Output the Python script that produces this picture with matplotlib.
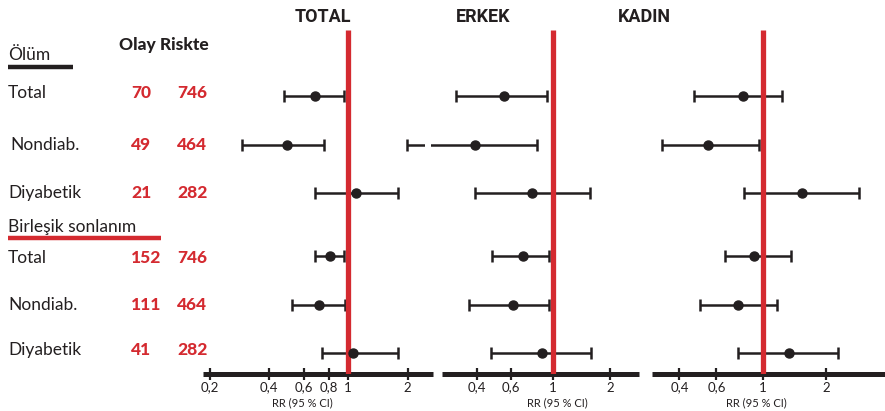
import matplotlib
matplotlib.use("Agg")
import matplotlib.pyplot as plt
from matplotlib.ticker import FixedLocator, FixedFormatter, NullLocator

# ---------------- data ----------------
panels = ["TOTAL", "ERKEK", "KADIN"]
group_titles = ["Ölüm", "Birleşik sonlanım"]
row_labels = ["Total", "Nondiab.", "Diyabetik", "Total", "Nondiab.", "Diyabetik"]
col_headers = "Olay Riskte"
olay = [70, 49, 21, 152, 111, 41]
riskte = [746, 464, 282, 746, 464, 282]

total_rr = [0.68, 0.49, 1.10, 0.81, 0.71, 1.06]
total_lo = [0.475, 0.29, 0.68, 0.68, 0.52, 0.74]
total_hi = [0.96, 0.76, 1.78, 0.95, 0.97, 1.78]

erkek_rr = [0.55, 0.39, 0.78, 0.70, 0.62, 0.875]
erkek_lo = [0.31, 0.17, 0.39, 0.48, 0.36, 0.47]
erkek_hi = [0.935, 0.83, 1.57, 0.956, 0.96, 1.59]

kadin_rr = [0.80, 0.55, 1.54, 0.91, 0.76, 1.33]
kadin_lo = [0.47, 0.33, 0.81, 0.66, 0.50, 0.76]
kadin_hi = [1.23, 0.96, 2.86, 1.36, 1.17, 2.27]

total_ticks = [0.2, 0.4, 0.6, 0.8, 1, 2]
total_ticklabels = ["0,2", "0,4", "0,6", "0,8", "1", "2"]
other_ticks = [0.4, 0.6, 1, 2]
other_ticklabels = ["0,4", "0,6", "1", "2"]
xlabel = "RR (95 % CI)"

# ---------------- style / layout ----------------
W, H = 885, 411
BLACK = "#231f20"
RED = "#d42a30"
FONT = ["Lato", "DejaVu Sans"]
TITLE_FONT = ["Roboto", "DejaVu Sans"]

fig = plt.figure(figsize=(W / 100, H / 100), dpi=100)
fig.patch.set_facecolor("white")


def fx(px):
    return px / W


def fy(py):
    return 1 - py / H


mark_rows = [96, 145, 193, 256, 305, 353]
text_rows = [93, 145, 193, 258, 305, 350]

panel_specs = [
    # x0, x1, xlim, title center x, xlabel center x
    (203, 433, (0.185, 2.69), 323, 302),
    (442, 639, (0.261, 2.84), 483, 557),
    (652, 885, (0.296, 3.81), 644, 756),
]
panel_data = [
    (total_rr, total_lo, total_hi, total_ticks, total_ticklabels),
    (erkek_rr, erkek_lo, erkek_hi, other_ticks, other_ticklabels),
    (kadin_rr, kadin_lo, kadin_hi, other_ticks, other_ticklabels),
]

Y_TOP, Y_BOT = 30, 374

for i, (name, spec, dat) in enumerate(zip(panels, panel_specs, panel_data)):
    x0, x1, xlim, tcx, lcx = spec
    rr, lo, hi, ticks, tlabels = dat
    ax = fig.add_axes([fx(x0), fy(Y_BOT), (x1 - x0) / W, (Y_BOT - Y_TOP) / H])
    ax.set_xscale("log")
    ax.set_xlim(*xlim)
    ax.set_ylim(Y_BOT, Y_TOP)
    ax.patch.set_alpha(0)
    for s in ["top", "right", "left"]:
        ax.spines[s].set_visible(False)
    ax.spines["bottom"].set_linewidth(3.6)
    ax.spines["bottom"].set_color(BLACK)
    ax.spines["bottom"].set_capstyle("butt")
    ax.yaxis.set_major_locator(NullLocator())
    ax.xaxis.set_major_locator(FixedLocator(ticks))
    ax.xaxis.set_major_formatter(FixedFormatter(tlabels))
    ax.xaxis.set_minor_locator(NullLocator())
    ax.tick_params(axis="x", direction="inout", length=9, width=1.6,
                   color=BLACK, labelsize=9.5, labelcolor=BLACK, pad=1)
    for lab in ax.get_xticklabels():
        lab.set_family(FONT)

    # red reference line
    ax.axvline(1, color=RED, lw=3.8, zorder=3, solid_capstyle="butt")

    # error bars
    xerr = [[r - l for r, l in zip(rr, lo)], [h - r for r, h in zip(rr, hi)]]
    eb = ax.errorbar(rr, mark_rows, xerr=xerr, fmt="none", ecolor=BLACK,
                     elinewidth=1.8, capsize=4, capthick=1.8, zorder=2)
    for art in eb.lines[1]:
        art.set_clip_on(False)
    for art in eb.lines[2]:
        art.set_clip_on(False)
    ax.plot(rr, mark_rows, "o", color=BLACK, ms=6.5, zorder=4, clip_on=False)

    if name == "ERKEK":
        # broken CI line indicator (gap) for the Nondiab. row
        ax.plot([0.213, 0.229], [mark_rows[1], mark_rows[1]], color="white",
                lw=3, zorder=2.5, clip_on=False, solid_capstyle="butt")

    fig.text(fx(tcx), fy(17), name, ha="center", va="center",
             fontsize=13, fontweight="bold", color=BLACK, family=TITLE_FONT)
    fig.text(fx(lcx), fy(403), xlabel, ha="center", va="center",
             fontsize=8, color=BLACK, family=FONT)

# ---------------- left table ----------------
fig.text(fx(8), fy(55), group_titles[0], ha="left", va="center",
         fontsize=12.5, color=BLACK, family=FONT)
fig.add_artist(plt.Line2D([fx(8), fx(73)], [fy(67), fy(67)], color=BLACK,
                          lw=3.2, solid_capstyle="butt"))
fig.text(fx(8), fy(227), group_titles[1], ha="left", va="center",
         fontsize=12.5, color=BLACK, family=FONT)
fig.add_artist(plt.Line2D([fx(8), fx(161)], [fy(238), fy(238)], color=RED,
                          lw=3.2, solid_capstyle="butt"))
fig.text(fx(164), fy(45), col_headers, ha="center", va="center",
         fontsize=12.5, fontweight="black", color=BLACK, family=FONT)

label_x = [8, 10, 8, 8, 8, 8]
for lab, lx, ty, o, r in zip(row_labels, label_x, text_rows, olay, riskte):
    fig.text(fx(lx), fy(ty), lab, ha="left", va="center", fontsize=12.5,
             color=BLACK, family=FONT)
    fig.text(fx(131), fy(ty), str(o), ha="left", va="center", fontsize=12.5,
             fontweight="black", color=RED, family=FONT)
    fig.text(fx(177), fy(ty), str(r), ha="left", va="center", fontsize=12.5,
             fontweight="black", color=RED, family=FONT)

fig.savefig("out.png", dpi=100, facecolor="white")
